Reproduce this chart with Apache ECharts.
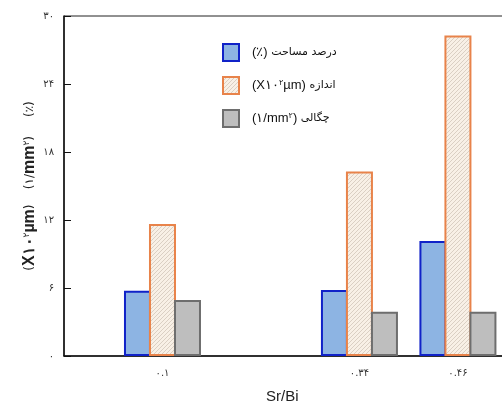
<!DOCTYPE html>
<html><head><meta charset="utf-8">
<script src="https://cdn.jsdelivr.net/npm/echarts@6/dist/echarts.min.js"></script>
<style>html,body{margin:0;padding:0;background:#fff}#c{width:502px;height:412px}</style>
</head><body><div id="c"></div>
<script>
// Data
const categories = [0.1, 0.34, 0.46];
const xTickLabels = ['۰.۱', '۰.۳۴', '۰.۴۶'];
const yTicks = [0, 6, 12, 18, 24, 30];
const yTickLabels = ['۰', '۶', '۱۲', '۱۸', '۲۴', '۳۰'];
const areaPercent = [5.76, 5.83, 10.15];
const sizeVals = [11.65, 16.27, 28.27];
const density = [4.94, 3.91, 3.91];

function hatch() {
  const c = document.createElement('canvas');
  c.width = 4; c.height = 4;
  const g = c.getContext('2d');
  g.fillStyle = '#F8F0E6'; g.fillRect(0, 0, 4, 4);
  g.strokeStyle = '#D2C6BA'; g.lineWidth = 0.8;
  g.beginPath();
  g.moveTo(0, 4); g.lineTo(4, 0);
  g.moveTo(-1, 1); g.lineTo(1, -1);
  g.moveTo(3, 5); g.lineTo(5, 3);
  g.stroke();
  return c;
}

const pair = (vals) => categories.map((c, i) => [c, vals[i]]);
const latin = 'Liberation Sans, Arial, sans-serif';
const fa = 'DejaVu Sans, sans-serif';

const legendText = {
  area: '{l|(٪) }{f|درصد مساحت}',
  size: '{l|(X۱۰}{s|۲}{l|µm) }{f|اندازه}',
  density: '{l|(۱/mm}{s|۲}{l|) }{f|چگالی}'
};

const chart = echarts.init(document.getElementById('c'));
chart.setOption({
  animation: false,
  backgroundColor: '#fff',
  grid: { left: 64, top: 16, height: 340, width: 476, outerBoundsMode: 'none', containLabel: false,
          show: true, borderColor: '#222', borderWidth: 1 },
  xAxis: {
    type: 'value', min: -0.02, max: 0.56,
    splitLine: { show: false },
    axisLine: { onZero: false, lineStyle: { color: '#111', width: 1.5 } },
    axisTick: { show: false },
    axisLabel: {
      customValues: categories,
      formatter: (v) => { const i = categories.indexOf(v); return i >= 0 ? xTickLabels[i] : ''; },
      margin: 12, fontSize: 10, color: '#333', fontFamily: fa
    }
  },
  yAxis: {
    type: 'value', min: 0, max: 30, interval: 6,
    splitLine: { show: false },
    axisLine: { show: true, onZero: false, lineStyle: { color: '#111', width: 1.5 } },
    axisTick: { show: true, inside: true, length: 7, lineStyle: { color: '#111' } },
    axisLabel: {
      formatter: (v) => yTickLabels[yTicks.indexOf(v)],
      margin: 10, fontSize: 10, color: '#333', fontFamily: fa
    },
    name: '{p|(}{b|X۱۰}{s|۲}{b|µm}{p|)    (۱/}{b|mm}{s|۲}{p|)     (٪)}',
    nameLocation: 'middle', nameRotate: 90, nameGap: 26, nameMoveOverlap: false,
    nameTextStyle: {
      rich: {
        p: { fontSize: 12, fontFamily: fa, color: '#222' },
        b: { fontSize: 16, fontFamily: latin, color: '#222', fontWeight: 'bold' },
        s: { fontSize: 9, fontFamily: fa, color: '#222', verticalAlign: 'top' }
      }
    }
  },
  legend: {
    orient: 'vertical', left: 222, top: 43, padding: 0,
    itemWidth: 16, itemHeight: 17, itemGap: 14,
    icon: 'rect',
    formatter: (n) => legendText[n],
    textStyle: {
      padding: [0, 0, 0, 8],
      rich: {
        l: { fontSize: 13, fontFamily: latin, color: '#111' },
        f: { fontSize: 11, fontFamily: fa, color: '#111' },
        s: { fontSize: 8, fontFamily: fa, color: '#111', verticalAlign: 'top' }
      }
    }
  },
  graphic: [{
    type: 'text', left: 266, top: 389,
    style: { text: 'Sr/Bi', fontSize: 15, fontFamily: latin, fill: '#222' }
  }],
  series: [
    { name: 'area', type: 'bar', data: pair(areaPercent), barWidth: 27, barGap: '-7.4%',
      itemStyle: { color: '#8DB4E3', borderColor: '#1022C8', borderWidth: 2 } },
    { name: 'size', type: 'bar', data: pair(sizeVals), barWidth: 27, barGap: '-7.4%',
      itemStyle: { color: { image: hatch(), repeat: 'repeat' }, borderColor: '#E8834A', borderWidth: 2 } },
    { name: 'density', type: 'bar', data: pair(density), barWidth: 27, barGap: '-7.4%',
      itemStyle: { color: '#BEBEBE', borderColor: '#6E6E6E', borderWidth: 2 } }
  ]
});
</script></body></html>
